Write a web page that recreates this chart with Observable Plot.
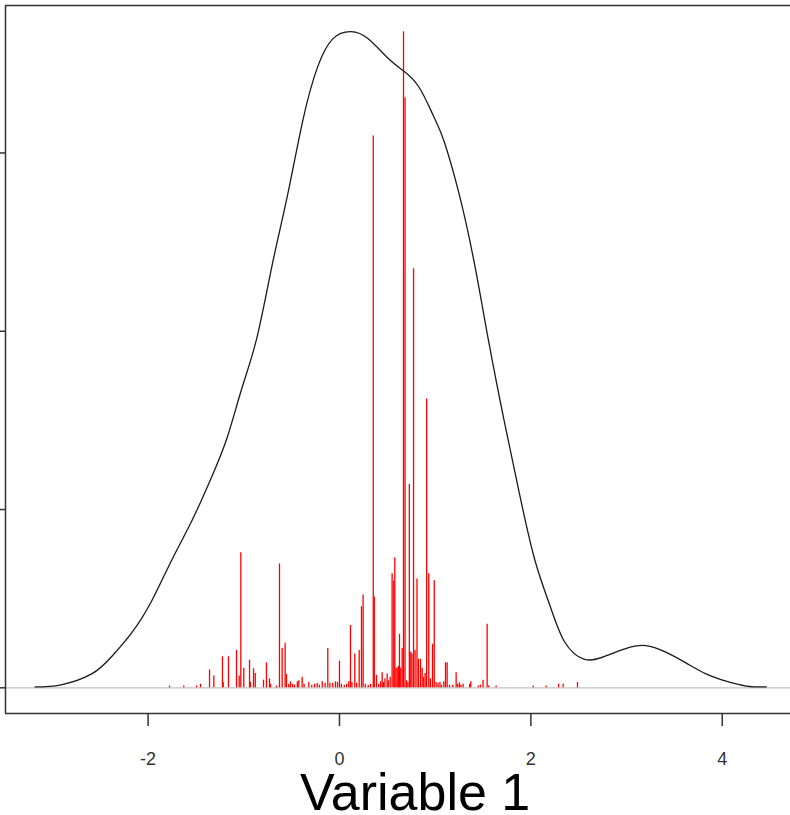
<!DOCTYPE html>
<html>
<head>
<meta charset="utf-8">
<script src="https://cdn.jsdelivr.net/npm/d3@7"></script>
<script src="https://cdn.jsdelivr.net/npm/@observablehq/plot@0.6"></script>
<style>
  html, body { margin: 0; padding: 0; background: white; overflow: hidden; }
</style>
</head>
<body>
<div id="chart"></div>
<script>
// Density curve (x, density)
const densX = [-3.18, -2.91, -2.59, -2.38, -2.17, -1.96, -1.75, -1.54, -1.33, -1.17, -1.02, -0.86, -0.70, -0.54, -0.38, -0.23, -0.07, 0.12, 0.30, 0.51, 0.67, 0.83, 0.98, 1.09, 1.25, 1.41, 1.56, 1.72, 1.88, 2.04, 2.20, 2.35, 2.56, 2.77, 2.99, 3.20, 3.41, 3.62, 3.83, 4.04, 4.25, 4.46];
const densY = [0.0005, 0.0017, 0.0078, 0.0176, 0.031, 0.049, 0.072, 0.094, 0.119, 0.141, 0.168, 0.197, 0.238, 0.277, 0.319, 0.348, 0.364, 0.368, 0.364, 0.353, 0.346, 0.337, 0.321, 0.307, 0.277, 0.238, 0.194, 0.150, 0.109, 0.072, 0.046, 0.026, 0.016, 0.0176, 0.022, 0.0237, 0.020, 0.014, 0.0078, 0.0037, 0.001, 0.0005];

// Red spikes (position, height)
const spikeX = [-1.776, -1.627, -1.494, -1.452, -1.358, -1.313, -1.223, -1.215, -1.16, -1.076, -1.048, -1.031, -1.0, -0.94, -0.93, -0.898, -0.88, -0.794, -0.763, -0.731, -0.72, -0.658, -0.627, -0.599, -0.568, -0.554, -0.53, -0.512, -0.49, -0.47, -0.44, -0.425, -0.39, -0.37, -0.32, -0.29, -0.26, -0.233, -0.21, -0.18, -0.15, -0.122, -0.10, -0.07, -0.042, -0.02, 0.0, 0.02, 0.05, 0.075, 0.097, 0.115, 0.13, 0.16, 0.18, 0.206, 0.23, 0.247, 0.27, 0.30, 0.325, 0.353, 0.364, 0.387, 0.41, 0.43, 0.446, 0.46, 0.475, 0.498, 0.51, 0.53, 0.55, 0.567, 0.578, 0.59, 0.603, 0.615, 0.627, 0.64, 0.655, 0.669, 0.685, 0.70, 0.715, 0.73, 0.745, 0.757, 0.774, 0.79, 0.81, 0.825, 0.846, 0.864, 0.88, 0.895, 0.911, 0.933, 0.95, 0.972, 0.99, 1.01, 1.03, 1.05, 1.066, 1.09, 1.108, 1.125, 1.15, 1.184, 1.219, 1.235, 1.254, 1.27, 1.292, 1.36, 1.372, 1.45, 1.473, 1.50, 1.543, 1.56, 1.637, 2.024, 2.16, 2.29, 2.337, 2.487];
const spikeH = [0.001, 0.001, 0.001, 0.002, 0.010, 0.0067, 0.0174, 0.003, 0.0174, 0.021, 0.0067, 0.0758, 0.011, 0.0155, 0.003, 0.0107, 0.008, 0.0043, 0.014, 0.005, 0.002, 0.001, 0.0695, 0.022, 0.025, 0.0075, 0.002, 0.0034, 0.002, 0.0015, 0.0034, 0.004, 0.006, 0.002, 0.003, 0.0015, 0.002, 0.0024, 0.0015, 0.0034, 0.0025, 0.022, 0.0025, 0.0025, 0.0034, 0.003, 0.015, 0.002, 0.0015, 0.002, 0.0034, 0.035, 0.003, 0.019, 0.0025, 0.021, 0.0455, 0.052, 0.002, 0.0015, 0.002, 0.3095, 0.051, 0.007, 0.002, 0.0034, 0.0084, 0.003, 0.005, 0.0077, 0.004, 0.006, 0.064, 0.060, 0.073, 0.011, 0.011, 0.012, 0.030, 0.011, 0.022, 0.368, 0.331, 0.004, 0.003, 0.114, 0.020, 0.019, 0.235, 0.021, 0.061, 0.016, 0.016, 0.011, 0.006, 0.008, 0.162, 0.064, 0.005, 0.0245, 0.060, 0.003, 0.0025, 0.003, 0.0015, 0.0034, 0.014, 0.014, 0.0015, 0.0015, 0.0084, 0.002, 0.0028, 0.0015, 0.002, 0.002, 0.0034, 0.001, 0.0015, 0.0043, 0.0356, 0.001, 0.001, 0.001, 0.001, 0.002, 0.002, 0.003];

const xTicks = [-2, 0, 2, 4];
const xTickLabels = ["-2", "0", "2", "4"];
const yTicks = [0, 0.1, 0.2, 0.3];
const xDomain = [-3.49, 4.713];
const yDomain = [-0.0144, 0.3827];
const xLabel = "Variable 1";
const xLabelAt = 0.79;

const dens = densX.map((x, i) => ({x, y: densY[i]}));
const spikes = spikeX.map((x, i) => ({x, h: spikeH[i]}));
const tickLabels = xTicks.map((x, i) => ({x, label: xTickLabels[i]}));

const chart = Plot.plot({
  width: 790,
  height: 815,
  marginLeft: 5,
  marginRight: 0,
  marginTop: 5,
  marginBottom: 102,
  x: {domain: xDomain},
  y: {domain: yDomain},
  style: {fontFamily: "'Liberation Sans', Arial, sans-serif", background: "white", color: "#333"},
  marks: [
    Plot.ruleY([0], {stroke: "#c0c0c0", strokeWidth: 1.3}),
    Plot.ruleX(spikes, {x: "x", y1: 0, y2: "h", stroke: "#ff0000", strokeWidth: 1.3}),
    Plot.line(dens, {x: "x", y: "y", stroke: "#1a1a1a", strokeWidth: 1.3, curve: "natural"}),
    Plot.axisX({ticks: xTicks, tickSize: 13, tickFormat: () => "", label: null, stroke: "#333", strokeWidth: 1.5}),
    Plot.text(tickLabels, {x: "x", text: "label", frameAnchor: "bottom", dy: 46, lineAnchor: "middle", fontSize: 18, fill: "#333"}),
    Plot.axisY({ticks: yTicks, tickSize: 13, tickFormat: () => "", label: null, stroke: "#333", strokeWidth: 1.5}),
    Plot.ruleY(yDomain, {stroke: "#333", strokeWidth: 1.5}),
    Plot.ruleX([xDomain[0]], {stroke: "#333", strokeWidth: 1.5}),
    Plot.text([xLabel], {x: () => xLabelAt, frameAnchor: "bottom", dy: 80, lineAnchor: "middle", fontSize: 52, fill: "black", text: d => d})
  ]
});
document.getElementById("chart").appendChild(chart);
</script>
</body>
</html>
